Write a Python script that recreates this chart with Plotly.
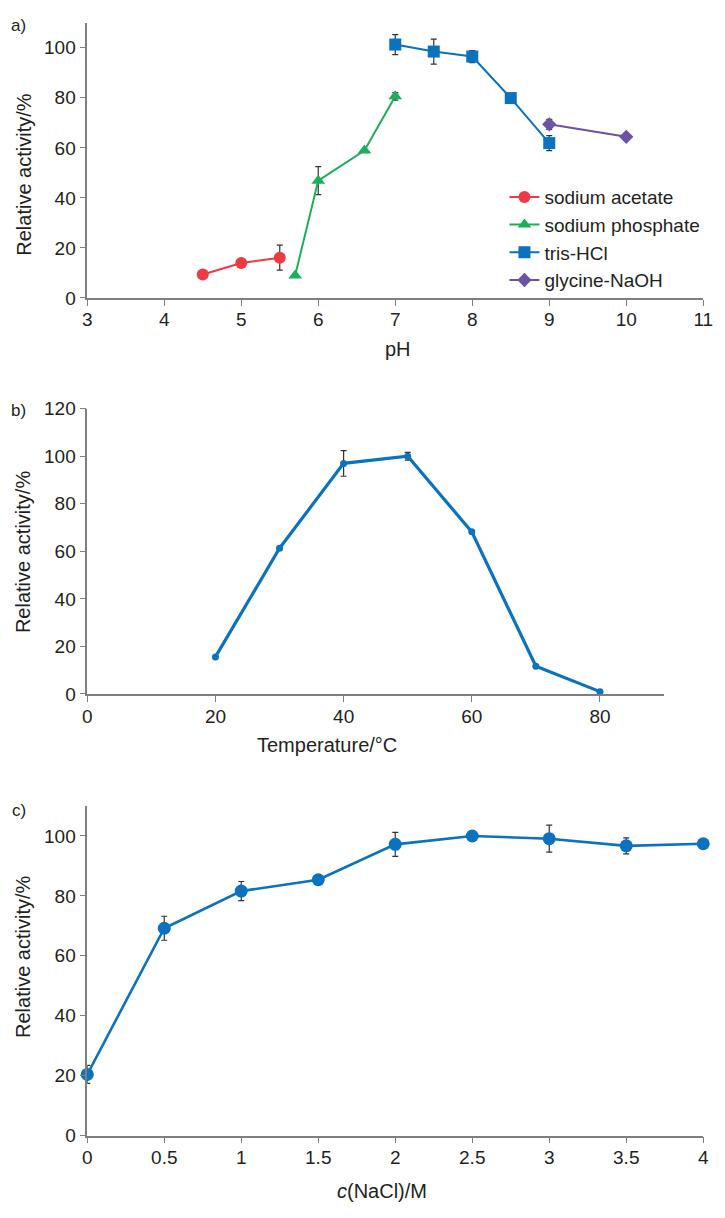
import plotly.graph_objects as go

# ---- Panel a: pH ----
ph_acetate = [4.5, 5.0, 5.5]
act_acetate = [9.4, 14.0, 16.1]
err_acetate = [0, 0, 5.0]

ph_phosphate = [5.7, 6.0, 6.6, 7.0]
act_phosphate = [9.0, 46.9, 58.9, 80.6]
err_phosphate = [0, 5.6, 0, 1.5]

ph_tris = [7.0, 7.5, 8.0, 8.5, 9.0]
act_tris = [101.3, 98.5, 96.5, 79.9, 61.9]
err_tris = [4.0, 5.0, 2.4, 0, 3.0]

ph_glycine = [9.0, 10.0]
act_glycine = [69.4, 64.4]
err_glycine = [2.0, 0]

# ---- Panel b: temperature ----
temp_c = [20, 30, 40, 50, 60, 70, 80]
act_temp = [15.6, 61.3, 97.0, 100.0, 68.2, 11.7, 1.0]
err_temp = [0, 0, 5.4, 1.6, 0, 0, 0]

# ---- Panel c: NaCl ----
nacl_m = [0, 0.5, 1, 1.5, 2, 2.5, 3, 3.5, 4]
act_nacl = [20.4, 69.2, 81.6, 85.4, 97.2, 100.0, 99.1, 96.7, 97.4]
err_nacl = [3.0, 4.0, 3.2, 1.3, 4.0, 0, 4.5, 2.7, 0]

FONT = "Liberation Sans, Arial, Helvetica, sans-serif"
TXT = "#231F20"
AX = "#7F7F7F"
W, H = 725, 1218

def err(vals):
    return dict(type="data", array=vals, visible=True, color="#333333", thickness=1.2, width=3)

fig = go.Figure()

series_a = [
    ("sodium acetate", ph_acetate, act_acetate, err_acetate, "#EE3A43", "circle", 12),
    ("sodium phosphate", ph_phosphate, act_phosphate, err_phosphate, "#1DAE5C", "triangle-up", 12),
    ("tris-HCl", ph_tris, act_tris, err_tris, "#0A72BE", "square", 12),
    ("glycine-NaOH", ph_glycine, act_glycine, err_glycine, "#6B52A3", "diamond", 11),
]
for name, x, y, e, c, sym, sz in series_a:
    fig.add_trace(go.Scatter(
        x=x, y=y, name=name, mode="lines+markers", error_y=err(e),
        line=dict(color=c, width=2), marker=dict(color=c, symbol=sym, size=sz),
        xaxis="x", yaxis="y", cliponaxis=False))

fig.add_trace(go.Scatter(
    x=temp_c, y=act_temp, mode="lines+markers", showlegend=False, error_y=err(err_temp),
    line=dict(color="#0A72BE", width=3.2), marker=dict(color="#0A72BE", symbol="circle", size=7),
    xaxis="x2", yaxis="y2", cliponaxis=False))

fig.add_trace(go.Scatter(
    x=nacl_m, y=act_nacl, mode="lines+markers", showlegend=False, error_y=err(err_nacl),
    line=dict(color="#0A72BE", width=2.6), marker=dict(color="#0A72BE", symbol="circle", size=13),
    xaxis="x3", yaxis="y3", cliponaxis=False))

def px_x(p):
    return p / W

def px_y(p):
    return 1 - p / H

tickfont = dict(family=FONT, size=19, color=TXT)
common = dict(showline=True, linecolor=AX, linewidth=1.5, ticks="outside", ticklen=6,
              tickcolor=AX, tickwidth=1.2, showgrid=False, zeroline=False,
              tickfont=tickfont)
xcommon = dict(common, ticklabelstandoff=-2)
ycommon = dict(common, ticklabelstandoff=0)

xd_full = [px_x(84), px_x(713)]
xd_b = [px_x(84), px_x(673)]

fig.update_layout(
    width=W, height=H, margin=dict(l=0, r=0, t=0, b=0),
    paper_bgcolor="white", plot_bgcolor="white",
    font=dict(family=FONT, color=TXT),
    xaxis=dict(domain=xd_full, range=[3, 11], dtick=1, anchor="y", **xcommon),
    yaxis=dict(domain=[px_y(293), px_y(13)], range=[0, 110], tick0=0, dtick=20, anchor="x", **ycommon),
    xaxis2=dict(domain=xd_b, range=[0, 90], tick0=0, dtick=20, anchor="y2", **xcommon),
    yaxis2=dict(domain=[px_y(696), px_y(405.7)], range=[0, 120], tick0=0, dtick=20, anchor="x2", **ycommon),
    xaxis3=dict(domain=xd_full, range=[0, 4], tick0=0, dtick=0.5, anchor="y3", **xcommon),
    yaxis3=dict(domain=[px_y(1145.3), px_y(810)], range=[0, 110], tick0=0, dtick=20, anchor="x3", **ycommon),
    legend=dict(x=px_x(510), y=px_y(171), xanchor="left", yanchor="top",
                font=dict(family=FONT, size=19, color=TXT), bgcolor="rgba(0,0,0,0)",
                itemwidth=30, tracegroupgap=0),
)

anns = [
    ("a)", 14, 16, 0),
    ("b)", 14, 408, 0),
    ("c)", 14, 815, 0),
    ("pH", 401, 345, 0),
    ("Temperature/\u00b0C", 329, 748, 0),
    ("<i>c</i>(NaCl)/M", 385, 1202, 0),
    ("Relative activity/%", 19, 168, -90),
    ("Relative activity/%", 19, 552, -90),
    ("Relative activity/%", 19, 964, -90),
]
for text, x, y, ang in anns:
    size = 17 if text.endswith(")") and len(text) == 2 else 20
    fig.add_annotation(text=text, x=px_x(x), y=px_y(y), xref="paper", yref="paper",
                       xanchor="center", yanchor="middle", showarrow=False, textangle=ang,
                       font=dict(family=FONT, size=size, color=TXT))

fig.write_html("out.html")
